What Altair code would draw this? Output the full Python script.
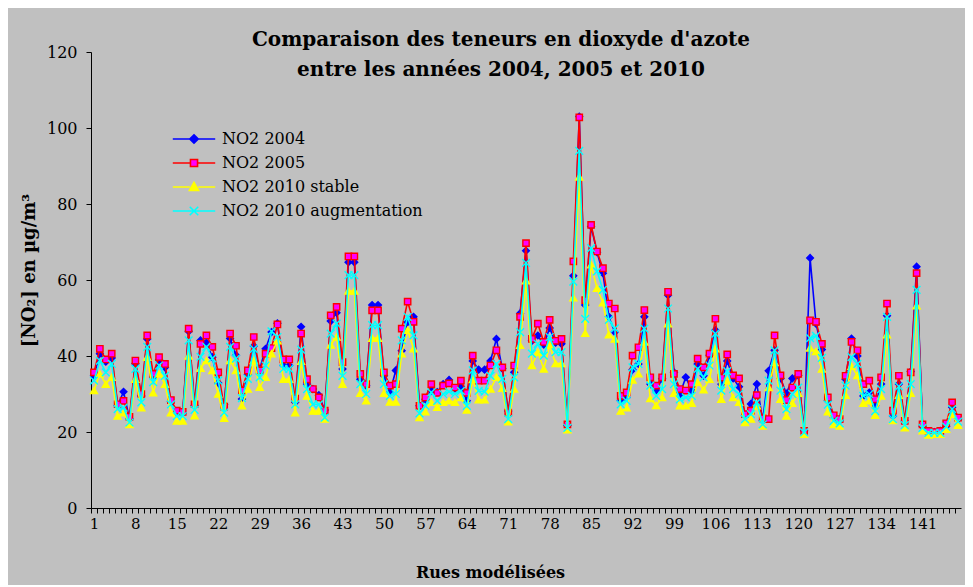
import altair as alt
import pandas as pd

rues = list(range(1, 148))

no2_2004 = [
    34.8, 40.6, 38.5, 39.5, 27.0, 30.6, 23.5, 38.0, 29.5, 44.5,
    34.5, 39.0, 37.0, 28.0, 25.0, 25.0, 46.5, 27.0, 44.1, 43.5,
    39.7, 32.9, 27.3, 44.6, 40.2, 28.7, 35.1, 42.6, 36.5, 41.9,
    46.3, 48.6, 37.5, 37.5, 27.8, 47.7, 32.6, 31.3, 29.7, 25.8,
    49.2, 51.4, 36.6, 64.7, 64.7, 33.9, 32.2, 53.4, 53.4, 34.8,
    30.4, 36.2, 41.4, 48.9, 50.3, 26.9, 28.6, 30.8, 30.5, 32.6,
    33.7, 31.5, 32.0, 28.2, 38.7, 36.4, 36.4, 38.7, 44.5, 36.7,
    25.5, 35.7, 51.2, 67.7, 44.0, 45.4, 43.0, 47.4, 43.5, 43.2,
    21.7, 61.1, 103.0, 53.4, 74.1, 67.3, 61.8, 50.3, 46.3, 28.2,
    29.1, 36.4, 37.9, 50.3, 32.6, 30.9, 34.0, 56.0, 35.7, 29.9,
    34.4, 30.9, 37.9, 34.8, 40.2, 46.8, 32.6, 38.7, 34.1, 31.9,
    24.3, 27.4, 32.6, 23.0, 36.1, 41.5, 34.1, 30.1, 34.1, 34.9,
    20.3, 65.8, 48.5, 41.7, 28.2, 23.8, 23.0, 33.9, 44.6, 40.0,
    29.5, 30.4, 26.9, 32.6, 50.6, 24.2, 32.6, 22.9, 35.9, 63.5,
    21.5, 20.0, 20.0, 20.3, 21.5, 26.5, 23.4]

no2_2005 = [
    35.7, 41.9, 39.1, 40.6, 27.3, 28.2, 24.0, 38.8, 30.0, 45.4,
    35.3, 39.7, 37.9, 28.4, 25.6, 25.3, 47.2, 27.3, 43.2, 45.4,
    42.4, 35.7, 26.7, 45.9, 42.7, 30.9, 36.2, 45.0, 36.2, 40.6,
    42.1, 48.3, 39.1, 39.1, 28.8, 45.9, 33.9, 31.3, 29.1, 25.6,
    50.7, 52.9, 38.4, 66.2, 66.2, 35.3, 32.6, 52.0, 52.0, 35.7,
    32.2, 32.6, 47.2, 54.3, 49.0, 26.9, 29.1, 32.6, 30.3, 32.2,
    32.8, 31.7, 33.5, 30.3, 40.1, 33.5, 33.5, 37.5, 41.5, 37.0,
    25.1, 37.5, 50.3, 69.7, 44.5, 48.5, 43.7, 49.5, 44.0, 44.5,
    22.0, 64.9, 102.8, 54.7, 74.5, 67.5, 63.1, 53.8, 52.5, 29.5,
    30.4, 40.1, 42.3, 52.1, 34.4, 32.2, 34.4, 56.9, 35.3, 31.3,
    30.9, 32.6, 39.3, 37.0, 40.6, 49.8, 34.3, 40.4, 34.9, 34.1,
    24.7, 25.6, 29.7, 23.6, 23.4, 45.4, 34.9, 28.4, 31.7, 35.3,
    20.3, 49.4, 49.0, 43.2, 29.1, 24.4, 23.4, 34.8, 43.7, 41.5,
    32.6, 33.5, 28.6, 34.4, 53.8, 25.6, 34.8, 22.9, 35.7, 61.8,
    22.0, 20.3, 20.0, 20.3, 22.3, 27.8, 23.8]

no2_2010_stable = [
    30.9, 35.3, 32.6, 34.4, 24.2, 25.1, 22.0, 33.9, 26.4, 39.7,
    30.3, 35.3, 32.6, 25.1, 22.9, 22.9, 40.0, 24.3, 36.8, 38.8,
    36.2, 30.0, 23.6, 38.8, 36.2, 26.9, 31.3, 38.8, 31.8, 34.4,
    40.6, 44.0, 33.9, 33.9, 25.1, 38.6, 29.5, 25.5, 25.5, 23.4,
    42.9, 45.0, 32.6, 57.1, 57.1, 30.2, 28.2, 44.7, 44.7, 30.2,
    27.9, 27.9, 40.6, 46.8, 41.9, 23.8, 25.3, 27.8, 26.5, 27.8,
    28.2, 27.8, 29.1, 25.8, 33.8, 28.5, 28.5, 31.3, 34.4, 31.5,
    22.7, 31.3, 42.8, 59.8, 37.5, 41.0, 36.6, 42.8, 38.0, 38.0,
    20.6, 55.3, 87.1, 46.0, 64.0, 57.8, 54.0, 45.6, 44.5, 25.5,
    26.4, 33.7, 35.3, 43.7, 28.8, 27.0, 29.1, 48.5, 30.2, 26.9,
    26.9, 27.6, 33.1, 31.1, 33.9, 41.9, 28.6, 33.5, 29.1, 27.8,
    22.5, 23.4, 26.9, 21.6, 31.7, 38.3, 28.6, 24.2, 27.6, 30.2,
    19.4, 42.1, 41.2, 36.6, 25.3, 22.0, 21.6, 29.7, 37.3, 34.9,
    27.6, 28.2, 24.4, 29.5, 45.6, 23.0, 29.7, 21.1, 30.2, 53.2,
    20.3, 19.2, 19.4, 19.4, 20.7, 24.7, 21.8]

no2_2010_augmentation = [
    33.5, 38.8, 35.7, 37.9, 26.0, 26.4, 22.5, 36.6, 27.8, 42.4,
    33.1, 37.5, 34.8, 27.3, 24.2, 24.2, 44.1, 25.8, 39.8, 42.4,
    39.4, 33.5, 25.1, 42.4, 39.3, 28.9, 34.0, 41.9, 34.4, 37.5,
    46.5, 45.0, 36.6, 36.6, 27.3, 41.7, 31.3, 27.3, 27.3, 23.8,
    45.9, 48.5, 34.8, 61.3, 61.3, 32.6, 30.0, 48.1, 48.1, 32.6,
    29.5, 30.0, 44.1, 50.3, 45.4, 24.9, 26.9, 30.4, 28.2, 30.0,
    30.6, 30.0, 30.8, 26.9, 36.2, 30.8, 30.6, 34.8, 37.9, 34.0,
    23.4, 34.4, 46.3, 64.5, 40.6, 43.2, 40.1, 45.0, 41.0, 41.0,
    21.1, 59.6, 94.0, 49.8, 68.4, 62.3, 57.4, 49.5, 47.3, 27.3,
    28.2, 37.0, 37.9, 47.2, 32.2, 29.5, 31.3, 52.5, 32.6, 28.6,
    29.1, 29.5, 36.6, 34.4, 37.5, 45.9, 30.9, 36.0, 31.3, 30.0,
    23.4, 24.7, 27.8, 22.0, 33.5, 41.5, 30.9, 26.0, 30.0, 31.7,
    19.9, 44.7, 45.3, 39.5, 27.2, 22.9, 22.3, 32.2, 39.7, 37.9,
    29.5, 30.0, 25.5, 31.3, 50.3, 23.4, 32.0, 21.8, 32.6, 57.4,
    21.1, 19.8, 19.8, 19.8, 21.4, 26.0, 22.7]

series = ["NO2 2004", "NO2 2005", "NO2 2010 stable", "NO2 2010 augmentation"]
series_values = [no2_2004, no2_2005, no2_2010_stable, no2_2010_augmentation]
y_ticks = [0, 20, 40, 60, 80, 100, 120]

line_colors = ["#0000FF", "#FF0000", "#FFFF00", "#00FFFF"]
fill_colors = ["#0000FF", "#FF00FF", "#FFFF00", "transparent"]
x_path = "M-1,-1L1,1M-1,1L1,-1"
marker_shapes = ["diamond", "square", "triangle-up", x_path]
marker_sizes = [45, 40, 50, 60]

# legend symbols: line + marker
legend_paths = [
    "M-3,0L-0.6,0M0.6,0L3,0M0,-0.6L0.6,0L0,0.6L-0.6,0Z",
    "M-3,0L-0.5,0M0.5,0L3,0M-0.5,-0.5L0.5,-0.5L0.5,0.5L-0.5,0.5Z",
    "M-3,0L-0.6,0M0.6,0L3,0M0,-0.65L0.65,0.5L-0.65,0.5Z",
    "M-3,0L3,0M-0.6,-0.6L0.6,0.6M-0.6,0.6L0.6,-0.6",
]

rows = []
for name, vals in zip(series, series_values):
    for r, v in zip(rues, vals):
        rows.append({"rue": r, "valeur": v, "serie": name})
df = pd.DataFrame(rows)

serif = "DejaVu Serif"

x_enc = alt.X(
    "rue:Q",
    scale=alt.Scale(domain=[0.5, 147.5], nice=False, zero=False),
    axis=alt.Axis(
        values=rues,
        labelExpr="datum.value % 7 == 1 ? format(datum.value, 'd') : ''",
        tickOffset=-3,
        labelOffset=3,
        labelOverlap=False,
        labelFlush=False,
        labelFont=serif,
        labelFontSize=15,
        labelColor="black",
        labelPadding=3,
        tickSize=5,
        tickColor="black",
        domainColor="black",
        grid=False,
        title="Rues modélisées",
        titleFont=serif,
        titleFontSize=16,
        titleFontWeight="bold",
        titleColor="black",
        titleX=399,
        titleY=64,
        titleBaseline="middle",
    ),
)
y_enc = alt.Y(
    "valeur:Q",
    scale=alt.Scale(domain=[0, 120], nice=False),
    axis=alt.Axis(
        values=y_ticks,
        labelFont=serif,
        labelFontSize=16,
        labelColor="black",
        labelPadding=9,
        tickSize=5,
        tickColor="black",
        domainColor="black",
        grid=False,
        title="[NO₂] en µg/m³",
        titleFont=serif,
        titleFontSize=18,
        titleFontWeight="bold",
        titleColor="black",
        titleX=-62,
        titleY=218,
        titleBaseline="middle",
        titleAlign="center",
    ),
)

layers = []
for i, name in enumerate(series):
    base = alt.Chart(df).transform_filter(alt.datum.serie == name)
    layers.append(base.mark_line(color=line_colors[i], strokeWidth=1.6).encode(x=x_enc, y=y_enc))
    layers.append(
        base.mark_point(
            shape=marker_shapes[i],
            size=marker_sizes[i],
            filled=False,
            fill=fill_colors[i],
            stroke=line_colors[i],
            strokeWidth=1.4,
            opacity=1,
        ).encode(x=x_enc, y=y_enc)
    )

legend_layer = (
    alt.Chart(df)
    .transform_filter("false")
    .mark_point(size=200, strokeWidth=1.6, opacity=1)
    .encode(
        x=x_enc,
        y=y_enc,
        color=alt.Color(
            "serie:N",
            scale=alt.Scale(domain=series, range=line_colors),
            legend=alt.Legend(
                title=None,
                orient="none",
                legendX=95,
                legendY=79,
                padding=0,
                labelFont=serif,
                labelFontSize=16,
                labelColor="black",
                labelLimit=0,
                labelOffset=20,
                rowPadding=8,
                symbolSize=200,
                symbolStrokeWidth=1.6,
            ),
        ),
        fill=alt.Fill("serie:N", scale=alt.Scale(domain=series, range=fill_colors)),
        shape=alt.Shape("serie:N", scale=alt.Scale(domain=series, range=legend_paths)),
    )
)
layers.append(legend_layer)

chart = (
    alt.layer(*layers)
    .properties(
        width=870,
        height=456,
        autosize=alt.AutoSizeParams(type="none"),
        padding={"left": 83, "top": 44, "right": 4, "bottom": 77},
        title=alt.Title(
            ["Comparaison des teneurs en dioxyde d'azote", "entre les années 2004, 2005 et 2010"],
            font=serif,
            fontSize=20,
            fontWeight="bold",
            color="black",
            anchor="middle",
            dx=-25,
            dy=36,
            lineHeight=30,
            offset=0,
        ),
    )
    .configure(background="#C0C0C0")
    .configure_view(stroke=None)
)

chart.save("out.html", embed_options={"renderer": "svg", "actions": False})
